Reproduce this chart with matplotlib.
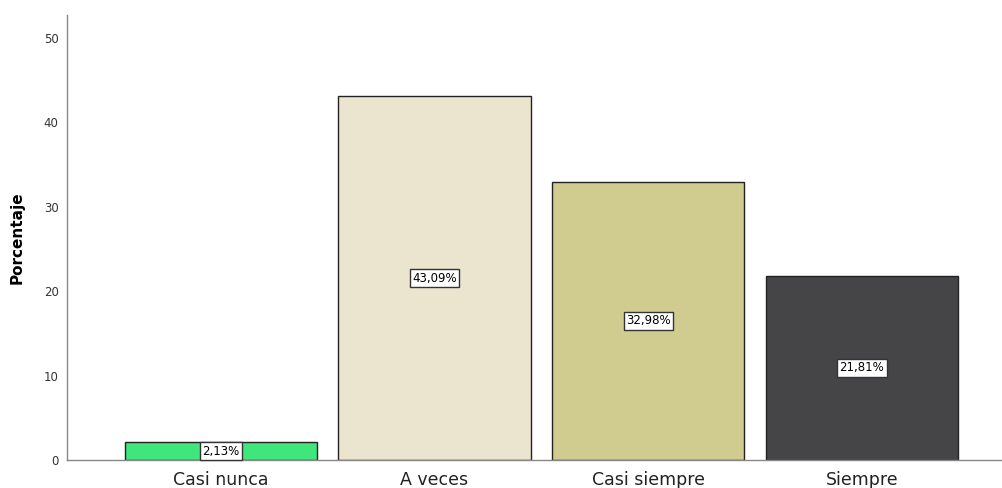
import matplotlib.pyplot as plt

categorias = ["Casi nunca", "A veces", "Casi siempre", "Siempre"]
porcentajes = [2.13, 43.09, 32.98, 21.81]
etiquetas = ["2,13%", "43,09%", "32,98%", "21,81%"]
colores = ["#3fe67c", "#ebe5d0", "#d0cb8e", "#454547"]

fig = plt.figure(figsize=(10.03, 4.88), dpi=100)
ax = fig.add_axes([67 / 1003, 28 / 488, 1 - 67 / 1003, (460 - 15) / 488])

pos = range(len(categorias))
ax.bar(pos, porcentajes, width=0.9, color=colores, edgecolor="#222222", linewidth=1)

for x, v, t in zip(pos, porcentajes, etiquetas):
    ax.text(x, v / 2, t, ha="center", va="center", fontsize=8.5, color="black",
            bbox=dict(boxstyle="square,pad=0.2", facecolor="white", edgecolor="#333333", linewidth=1))

ax.set_xlim(-0.72, 3.66)
ax.set_ylim(0, 52.7)
ax.set_yticks([0, 10, 20, 30, 40, 50])
ax.set_xticks(list(pos))
ax.set_xticklabels(categorias, fontsize=12.5, color="#222222")
ax.tick_params(axis="y", length=0, labelsize=8.5, colors="#333333", pad=6)
ax.tick_params(axis="x", length=0, pad=8)
ax.set_ylabel("Porcentaje", fontsize=11, fontweight="bold", labelpad=14)

for s in ["top", "right"]:
    ax.spines[s].set_visible(False)
for s in ["left", "bottom"]:
    ax.spines[s].set_color("#888888")
    ax.spines[s].set_linewidth(1)

fig.savefig("out.png", dpi=100)
